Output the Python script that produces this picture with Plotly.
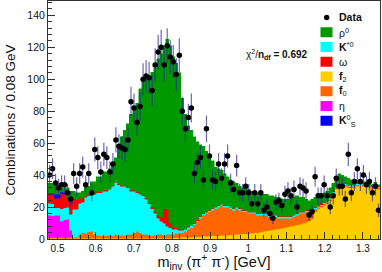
import plotly.graph_objects as go

# ---------------- binning ----------------
X_MIN, X_MAX, N_BINS = 0.475, 1.345, 110
BIN_W = (X_MAX - X_MIN) / N_BINS
centers = [X_MIN + BIN_W * (i + 0.5) for i in range(N_BINS)]

# ---------------- data (black points) ----------------
data_counts = [
    40, 44, 35, 32, 34, 34, 29, 25, 41, 33,
    41, 45, 34, 41, 29, 56, 51, 42, 53, 51,
    42, 47, 62, 58, 57, 56, 62, 86, 82, 73,
    83, 100, 102, 101, 93, 109, 117, 120, 109, 121,
    114, 111, 103, 115, 80, 69, 76, 82, 41, 48,
    51, 37, 69, 52, 37, 36, 47, 38, 47, 52,
    35, 31, 46, 29, 29, 33, 29, 22, 29, 22,
    29, 18, 20, 16, 13, 23, 24, 21, 28, 30,
    27, 31, 20, 33, 32, 30, 15, 17, 39, 27,
    27, 34, 27, 20, 27, 38, 33, 33, 25, 53,
    29, 36, 44, 36, 40, 34, 36, 29, 33, 18,
]
data_errors = [
    6.3, 6.6, 5.9, 5.7, 5.8, 5.8, 5.4, 5.0, 6.4, 5.7,
    6.4, 6.7, 5.8, 6.4, 5.4, 7.5, 7.1, 6.5, 7.3, 7.1,
    6.5, 6.9, 7.9, 7.6, 7.5, 7.5, 7.9, 9.3, 9.1, 8.5,
    9.1, 10.0, 10.1, 10.0, 9.6, 10.4, 10.8, 11.0, 10.4, 11.0,
    10.7, 10.5, 10.1, 10.7, 8.9, 8.3, 8.7, 9.1, 6.4, 6.9,
    7.1, 6.1, 8.3, 7.2, 6.1, 6.0, 6.9, 6.2, 6.9, 7.2,
    5.9, 5.6, 6.8, 5.4, 5.4, 5.7, 5.4, 4.7, 5.4, 4.7,
    5.4, 4.2, 4.5, 4.0, 3.6, 4.8, 4.9, 4.6, 5.3, 5.5,
    5.2, 5.6, 4.5, 5.7, 5.7, 5.5, 3.9, 4.1, 6.2, 5.2,
    5.2, 5.8, 5.2, 4.5, 5.2, 6.2, 5.7, 5.7, 5.0, 7.3,
    5.4, 6.0, 6.6, 6.0, 6.3, 5.8, 6.0, 5.4, 5.7, 4.2,
]

# ---------------- stacked components (bottom -> top) ----------------
f2 = [
    0.6, 0.6, 0.6, 0.6, 0.6, 0.6, 0.6, 0.6, 0.6, 0.6,
    0.6, 0.6, 0.6, 0.6, 0.6, 0.6, 0.6, 0.6, 0.6, 0.6,
    0.6, 0.6, 0.6, 0.6, 0.6, 0.6, 0.6, 0.6, 0.6, 0.6,
    0.6, 0.6, 0.6, 0.6, 0.6, 0.6, 0.6, 0.6, 0.6, 0.6,
    0.6, 0.8, 0.8, 1.0, 1.0, 1.0, 1.2, 1.2, 1.4, 1.5,
    1.5, 1.6, 1.7, 1.8, 2.0, 2.0, 2.0, 2.2, 2.3, 2.5,
    2.6, 2.8, 3.0, 3.0, 3.2, 3.4, 3.5, 3.6, 3.8, 4.0,
    4.6, 4.9, 5.2, 5.5, 5.8, 6.1, 6.4, 6.8, 7.2, 7.6,
    8.0, 8.4, 8.8, 9.3, 9.8, 10.5, 11.5, 13.0, 17, 19,
    20, 21, 22, 24, 28, 31, 34, 33, 33, 32,
    32, 32, 33, 34, 33, 33, 32, 31, 33, 31,
]
f0 = [
    0.6, 0.6, 0.6, 0.6, 0.6, 0.6, 0.6, 0.6, 0.6, 0.6,
    2.4, 3.4, 2.9, 3.9, 4.4, 2.4, 1.9, 1.4, 1.9, 1.4,
    1.9, 1.4, 2.4, 1.4, 1.9, 1.4, 2.4, 2.4, 3.4, 4.4,
    3.4, 2.4, 2.4, 1.9, 1.4, 1.9, 2.4, 2.4, 1.9, 2.4,
    2.4, 2.2, 2.7, 3.0, 3.0, 4.0, 4.8, 5.8, 7.6, 9.5,
    11.5, 13.4, 14.3, 15.2, 16.0, 17.0, 18.0, 18.8, 17.7, 17.5,
    16.4, 15.2, 16.0, 15.0, 13.8, 13.6, 12.5, 12.4, 12.2, 11.0,
    10.4, 10.1, 9.8, 8.5, 8.2, 7.9, 6.6, 6.2, 5.8, 5.4,
    5.0, 5.6, 6.2, 6.7, 6.2, 6.5, 5.5, 4.0, 2.0, 1.0,
    1.0, 1.0, 1.0, 1.0, 1.0, 1.0, 1.0, 1.0, 1.0, 1.0,
    1.0, 1.0, 1.0, 1.0, 1.0, 1.0, 1.0, 1.0, 1.0, 1.0,
]
eta = [
    13.8, 13.3, 13.8, 13.8, 9.8, 10.8, 11.3, 4.3, 0, 0,
    0, 0, 0, 0, 0, 0, 0, 0, 0, 0,
    0, 0, 0, 0, 0, 0, 0, 0, 0, 0,
    0, 0, 0, 0, 0, 0, 0, 0, 0, 0,
    0, 0, 0, 0, 0, 0, 0, 0, 0, 0,
    0, 0, 0, 0, 0, 0, 0, 0, 0, 0,
    0, 0, 0, 0, 0, 0, 0, 0, 0, 0,
    0, 0, 0, 0, 0, 0, 0, 0, 0, 0,
    0, 0, 0, 0, 0, 0, 0, 0, 0, 0,
    0, 0, 0, 0, 0, 0, 0, 0, 0, 0,
    0, 0, 0, 0, 0, 0, 0, 0, 0, 0,
]
kstar0 = [
    7.5, 7.5, 4.5, 4.5, 8.0, 7.5, 7.5, 10.0, 17.3, 17.3,
    19.5, 19.0, 22.5, 22.5, 22.5, 25.0, 26.5, 27.0, 27.5, 28.0,
    28.5, 31.0, 32.5, 32.0, 30.5, 31.0, 29.0, 27.0, 26.0, 24.0,
    24.0, 24.0, 22.0, 19.5, 17.0, 13.5, 10.0, 8.0, 7.5, 5.0,
    4.0, 3.0, 2.5, 1.5, 1.5, 1.0, 1.5, 1.5, 0.5, 0.5,
    0.8, 0.8, 0.8, 0.8, 0.8, 0.8, 0.8, 0.8, 0.8, 0.8,
    0.8, 0.8, 0.8, 0.8, 0.8, 0.8, 0.8, 0.8, 0.8, 0.8,
    0.8, 0.8, 0.8, 0.8, 0.8, 0.8, 0.8, 0.8, 0.8, 0.8,
    0.8, 0.8, 0.8, 0.8, 0.8, 0.8, 0.8, 0.8, 0.6, 0.6,
    0.6, 0.6, 0.6, 0.6, 0.6, 0.6, 0.6, 0.6, 0.6, 0.6,
    0.6, 0.6, 0.6, 0.6, 0.6, 0.6, 0.6, 0.6, 0.6, 0.6,
]
omega = [
    5.5, 6.0, 6.0, 6.0, 9.5, 8.5, 6.5, 7.0, 6.0, 6.0,
    3.0, 2.5, 1.0, 1.0, 0.5, 1.0, 1.0, 0.5, 0.5, 0.5,
    0.5, 0.5, 0.5, 0.5, 0.5, 0.5, 0.5, 0.5, 0.5, 0.5,
    0.5, 0.5, 0.5, 0.5, 1.0, 1.5, 2.0, 3.0, 9.0, 11.0,
    3.0, 2.0, 1.0, 1.0, 0.5, 0.5, 0.5, 0.5, 0.5, 0.5,
    0.3, 0.3, 0.3, 0.3, 0.3, 0.3, 0.3, 0.3, 0.3, 0.3,
    0.3, 0.3, 0.3, 0.3, 0.3, 0.3, 0.3, 0.3, 0.3, 0.3,
    0.3, 0.3, 0.3, 0.3, 0.3, 0.3, 0.3, 0.3, 0.3, 0.3,
    0.3, 0.3, 0.3, 0.3, 0.3, 0.3, 0.3, 0.3, 0.4, 0.4,
    0.4, 0.4, 0.4, 0.4, 0.4, 0.4, 0.4, 0.4, 0.4, 0.4,
    0.4, 0.4, 0.4, 0.4, 0.4, 0.4, 0.4, 0.4, 0.4, 0.4,
]
ks0 = [
    0.5, 0.5, 2.5, 2.5, 1.0, 1.0, 0, 0.5, 0.5, 0,
    0, 0, 0, 0, 0, 0, 0, 0, 0, 0,
    0, 0, 0, 0, 0, 0, 0, 0, 0, 0,
    0, 0, 0, 0, 0, 0, 0, 0, 0, 0,
    0, 0, 0, 0, 0, 0, 0, 0, 0, 0,
    0, 0, 0, 0, 0, 0, 0, 0, 0, 0,
    0, 0, 0, 0, 0, 0, 0, 0, 0, 0,
    0, 0, 0, 0, 0, 0, 0, 0, 0, 0,
    0, 0, 0, 0, 0, 0, 0, 0, 0, 0,
    0, 0, 0, 0, 0, 0, 0, 0, 0, 0,
    0, 0, 0, 0, 0, 0, 0, 0, 0, 0,
]
rho0 = [
    6.5, 6.5, 6.0, 6.0, 2.5, 3.0, 5.5, 7.0, 5.0, 4.5,
    3.5, 4.5, 6.0, 5.0, 8.0, 7.0, 9.0, 9.5, 11.5, 11.5,
    12.5, 13.5, 15.0, 22.5, 30.5, 34.5, 39.5, 47.5, 50.5, 55.5,
    65.5, 72.5, 75.5, 79.5, 84.5, 89.5, 98.0, 102.0, 102.0, 106.0,
    111.0, 106.0, 103.0, 97.5, 82.0, 71.5, 63.0, 59.0, 54.0, 49.0,
    44.9, 41.9, 37.9, 34.9, 29.9, 24.9, 22.9, 20.9, 19.9, 17.9,
    16.9, 16.9, 14.9, 13.9, 13.9, 13.9, 13.9, 12.9, 12.9, 12.9,
    12.9, 11.9, 11.9, 11.9, 11.9, 10.9, 11.9, 10.9, 10.9, 10.9,
    11.9, 10.9, 10.9, 8.9, 8.9, 6.9, 5.9, 6.9, 6.0, 6.0,
    6.0, 6.0, 6.0, 6.0, 5.0, 5.0, 5.0, 5.0, 4.0, 4.0,
    3.0, 3.0, 2.0, 1.0, 1.0, 1.0, 1.0, 1.0, 0.5, 1.0,
]

# ---------------- labels / ticks ----------------
x_tick_vals = [0.5, 0.6, 0.7, 0.8, 0.9, 1.0, 1.1, 1.2, 1.3]
x_tick_text = ["0.5", "0.6", "0.7", "0.8", "0.9", "1", "1.1", "1.2", "1.3"]
y_tick_vals = [0, 20, 40, 60, 80, 100, 120, 140]
y_tick_text = ["0", "20", "40", "60", "80", "100", "120", "140"]

# stacking order bottom -> top : (values, color, legend label)
stack = [
    (f2, "#ffcc00", "<b>f</b><sub>2</sub>"),
    (f0, "#ff6600", "<b>f</b><sub>0</sub>"),
    (eta, "#ff00ff", "η"),
    (kstar0, "#00ffff", "<b>K</b><sup>*0</sup>"),
    (omega, "#ff0000", "ω"),
    (ks0, "#0000ff", "<b>K</b><sup>0</sup><sub>S</sub>"),
    (rho0, "#009900", "ρ<sup>0</sup>"),
]
legend_order = [6, 3, 4, 0, 1, 2, 5]  # rho, K*, omega, f2, f0, eta, Ks

fig = go.Figure()
for vals, col, lab in stack:
    fig.add_trace(go.Bar(
        x=centers,
        y=[v if v > 0 else None for v in vals],
        width=BIN_W,
        marker=dict(color=col, line=dict(color=col, width=0.5)),
        name=lab, hoverinfo="skip",
    ))

fig.add_trace(go.Scatter(
    x=centers, y=data_counts, mode="markers", name="Data",
    marker=dict(color="black", size=5.5),
    error_y=dict(type="data", array=data_errors, visible=True,
                 thickness=1.2, width=0, color="rgba(40,40,160,0.7)"),
    cliponaxis=True, hoverinfo="skip",
))

# ---------------- geometry helpers (pixels -> paper) ----------------
W, H = 382, 272
ML, MR, MT, MB = 48, 2, 1, 33


def pxx(px):
    return (px - ML) / (W - ML - MR)


def pxy(py):
    return (H - MB - py) / (H - MT - MB)


shapes = []
annotations = []
row0, row_step = 17.5, 14.75
# Data entry
shapes.append(dict(type="circle", xref="paper", yref="paper",
                   x0=pxx(324.0), x1=pxx(329.4), y0=pxy(row0 + 2.7), y1=pxy(row0 - 2.7),
                   fillcolor="black", line=dict(width=0)))
annotations.append(dict(xref="paper", yref="paper", x=pxx(336.5), y=pxy(row0),
                        text="<b>Data</b>", showarrow=False, xanchor="left", yanchor="middle",
                        font=dict(size=10.5, color="#111")))
for k, idx in enumerate(legend_order):
    vals, col, lab = stack[idx]
    yc = row0 + row_step * (k + 1)
    shapes.append(dict(type="rect", xref="paper", yref="paper",
                       x0=pxx(320.5), x1=pxx(332.5), y0=pxy(yc + 5), y1=pxy(yc - 5),
                       fillcolor=col, line=dict(width=0)))
    annotations.append(dict(xref="paper", yref="paper", x=pxx(336.5), y=pxy(yc),
                            text=lab, showarrow=False, xanchor="left", yanchor="middle",
                            font=dict(size=10.5, color="#111")))

annotations.append(dict(xref="paper", yref="paper", x=pxx(277), y=pxy(55),
                        text="χ<sup>2</sup>/<b>n</b><sub><b>df</b></sub> <b>= 0.692</b>",
                        showarrow=False, xanchor="center", yanchor="middle",
                        font=dict(size=10, color="#111")))

axis_col = "#333"
fig.update_layout(
    width=W, height=H,
    margin=dict(l=ML, r=MR, t=MT, b=MB, pad=0),
    barmode="stack", bargap=0, showlegend=False,
    paper_bgcolor="white", plot_bgcolor="white",
    font=dict(family="Liberation Sans, Arial, sans-serif", size=10, color="#111"),
    shapes=shapes, annotations=annotations,
    xaxis=dict(
        range=[X_MIN, X_MAX], tickmode="array", tickvals=x_tick_vals, ticktext=x_tick_text,
        ticks="inside", ticklen=7, tickcolor=axis_col, tickwidth=1,
        showline=True, linecolor=axis_col, linewidth=1, mirror=True,
        showgrid=False, zeroline=False, tickfont=dict(size=10),
        minor=dict(tickmode="linear", tick0=0.5, dtick=0.02, ticks="inside",
                   ticklen=4, tickcolor=axis_col, showgrid=False),
        title=dict(text="m<sub>inv</sub> (π<sup>+</sup> π<sup>-</sup>) [GeV]",
                   font=dict(size=14.5), standoff=5),
    ),
    yaxis=dict(
        range=[0, 149], tickmode="array", tickvals=y_tick_vals, ticktext=y_tick_text,
        ticks="inside", ticklen=7, tickcolor=axis_col, tickwidth=1,
        showline=True, linecolor=axis_col, linewidth=1, mirror=True,
        showgrid=False, zeroline=False, tickfont=dict(size=10.5),
        minor=dict(tickmode="linear", tick0=0, dtick=4, ticks="inside",
                   ticklen=4, tickcolor=axis_col, showgrid=False),
        title=dict(text="Combinations / 0.08 GeV", font=dict(size=13.5), standoff=8),
    ),
)

fig.write_html(
    "out.html",
    config={"displayModeBar": False, "staticPlot": True},
    post_script=(
        "document.documentElement.style.margin='0';"
        "document.body.style.margin='0';"
        "document.body.style.padding='0';"
        "document.body.style.overflow='hidden';"
    ),
)
